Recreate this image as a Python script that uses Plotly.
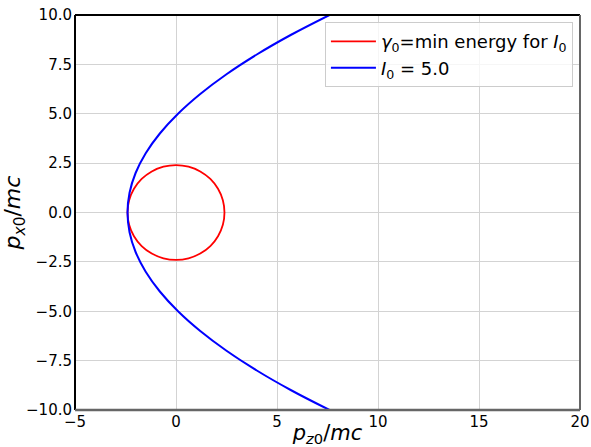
import plotly.graph_objects as go

# Red circle: gamma0 = min energy for I0
circle_pz = [2.40, 2.32, 2.08, 1.70, 1.20, 0.62, 0.00, -0.62, -1.20, -1.70, -2.08, -2.32, -2.40,
             -2.32, -2.08, -1.70, -1.20, -0.62, 0.00, 0.62, 1.20, 1.70, 2.08, 2.32, 2.40]
circle_px = [0.00, 0.62, 1.20, 1.70, 2.08, 2.32, 2.40, 2.32, 2.08, 1.70, 1.20, 0.62, 0.00,
             -0.62, -1.20, -1.70, -2.08, -2.32, -2.40, -2.32, -2.08, -1.70, -1.20, -0.62, 0.00]

# Blue curve: I0 = 5.0
curve_px = [-10, -9, -8, -7, -6, -5, -4, -3, -2, -1, 0, 1, 2, 3, 4, 5, 6, 7, 8, 9, 10]
curve_pz = [7.6, 5.7, 4.0, 2.5, 1.2, 0.1, -0.8, -1.5, -2.0, -2.3, -2.4,
            -2.3, -2.0, -1.5, -0.8, 0.1, 1.2, 2.5, 4.0, 5.7, 7.6]

x_ticks = [-5, 0, 5, 10, 15, 20]
y_ticks = [-10.0, -7.5, -5.0, -2.5, 0.0, 2.5, 5.0, 7.5, 10.0]

FONT = "DejaVu Sans"

fig = go.Figure()
fig.add_trace(go.Scatter(
    x=circle_pz, y=circle_px, mode="lines", line=dict(color="red", width=1.8, shape="spline"),
    name="<i>γ</i><sub>0</sub>=min energy for <i>I</i><sub>0</sub>"))
fig.add_trace(go.Scatter(
    x=curve_pz, y=curve_px, mode="lines", line=dict(color="blue", width=2, shape="spline"),
    name="<i>I</i><sub>0</sub> = 5.0"))

axis_common = dict(showgrid=True, gridcolor="#d3d3d3", gridwidth=1, zeroline=False, automargin=False,
                   showline=False, ticks="", tickfont=dict(family=FONT, size=15, color="black"))

fig.update_layout(
    width=591, height=447,
    margin=dict(l=75, r=11, t=15, b=37),
    paper_bgcolor="white", plot_bgcolor="white",
    font=dict(family=FONT, color="black"),
    xaxis=dict(range=[-5, 20], tickvals=x_ticks, ticktext=[str(v).replace("-", "−") for v in x_ticks],
               ticklabelstandoff=1,
               title=dict(text="<i>p</i><sub><i>z</i>0</sub>/<i>mc</i>", font=dict(size=21), standoff=0),
               **axis_common),
    yaxis=dict(range=[-10, 10], tickvals=y_ticks, ticktext=[f"{v:.1f}".replace("-", "−") for v in y_ticks],
               ticklabelstandoff=2,
               title=dict(text="<i>p</i><sub><i>x</i>0</sub>/<i>mc</i>", font=dict(size=22), standoff=3),
               **axis_common),
    legend=dict(x=0.986, y=0.982, xanchor="right", yanchor="top",
                bgcolor="rgba(255,255,255,0.8)", bordercolor="#cccccc", borderwidth=1,
                itemwidth=45,
                font=dict(family=FONT, size=18, color="black"), tracegroupgap=0),
    showlegend=True,
    shapes=[
        dict(type="line", xref="paper", yref="paper", x0=0, x1=0, y0=0, y1=1, line=dict(color="black", width=2)),
        dict(type="line", xref="paper", yref="paper", x0=0, x1=1, y0=1, y1=1, line=dict(color="black", width=2)),
        dict(type="line", xref="paper", yref="paper", x0=0, x1=1, y0=0, y1=0, line=dict(color="#666666", width=2.5)),
        dict(type="line", xref="paper", yref="paper", x0=1, x1=1, y0=0, y1=1, line=dict(color="#666666", width=2)),
    ],
)

fig.write_html("out.html", config={"displayModeBar": False},
               post_script="document.body.style.margin='0';document.body.style.overflow='hidden';")
